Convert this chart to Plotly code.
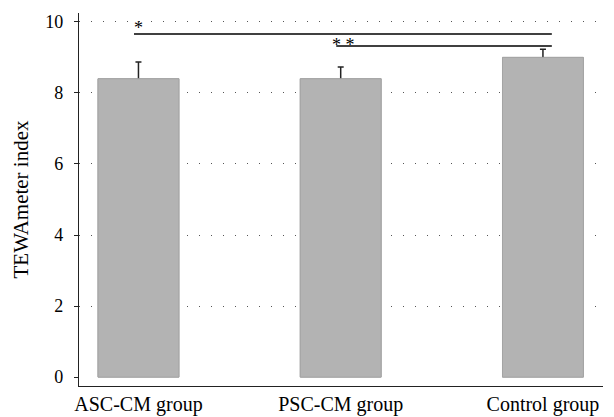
import plotly.graph_objects as go

# TEWAmeter readings per group (mean and SD)
groups = ["ASC-CM group", "PSC-CM group", "Control group"]
means = [8.4, 8.4, 9.0]
sd = [0.47, 0.33, 0.23]
y_ticks = [0, 2, 4, 6, 8, 10]

# Significance brackets: (from group, to group), line height, label and its position
bracket_pairs = [(0, 2), (1, 2)]
bracket_heights = [9.66, 9.32]
bracket_labels = ["*", "* *"]
label_x = [0.0, 1.015]
label_y = [9.82, 9.36]

xpos = list(range(len(groups)))
font_family = "Liberation Serif, Times New Roman, serif"
bar_style = dict(color="#b3b3b3", line=dict(color="#a4a4a4", width=1))

fig = go.Figure()
# bars carrying the SD whiskers
fig.add_trace(go.Bar(
    x=xpos, y=means, width=0.40, marker=bar_style,
    error_y=dict(type="data", array=sd, color="#222222",
                 thickness=1.5, width=3),
    hoverinfo="skip",
))
# identical bars on top so only the upper whisker shows
fig.add_trace(go.Bar(x=xpos, y=means, width=0.40, marker=bar_style))

for (a, b), h in zip(bracket_pairs, bracket_heights):
    fig.add_shape(type="line", x0=a - 0.022, x1=b + 0.044, y0=h, y1=h,
                  line=dict(color="black", width=1.4))
for x, y, lab in zip(label_x, label_y, bracket_labels):
    fig.add_annotation(x=x, y=y, text=lab, showarrow=False,
                       xanchor="center", yanchor="middle",
                       font=dict(family=font_family, size=18, color="#000000"))

fig.update_layout(
    template="none",
    width=614, height=417,
    margin=dict(l=79, r=11, t=13, b=31, autoexpand=False),
    paper_bgcolor="white", plot_bgcolor="white",
    showlegend=False, barmode="overlay",
    font=dict(family=font_family, size=17, color="black"),
    xaxis=dict(
        range=[-0.294, 2.297], tickmode="array", tickvals=xpos,
        ticktext=groups, showgrid=False, zeroline=False,
        showline=True, linecolor="#222222", linewidth=1.3,
        ticks="", tickfont=dict(size=20), automargin=False,
    ),
    yaxis=dict(
        range=[-0.25, 10.25], tickmode="array", tickvals=y_ticks,
        showgrid=True, gridcolor="#555555", gridwidth=1, griddash="1px,11px",
        zeroline=True, zerolinecolor="rgba(0,0,0,0)", zerolinewidth=1,
        showline=True, linecolor="#222222", linewidth=1.3,
        ticks="outside", ticklen=4, tickcolor="#222222", tickwidth=1.2,
        ticklabelstandoff=7, automargin=False,
        tickfont=dict(size=18),
        title=dict(text="TEWAmeter index", font=dict(size=21), standoff=10),
    ),
)

fig.write_html("out.html")
